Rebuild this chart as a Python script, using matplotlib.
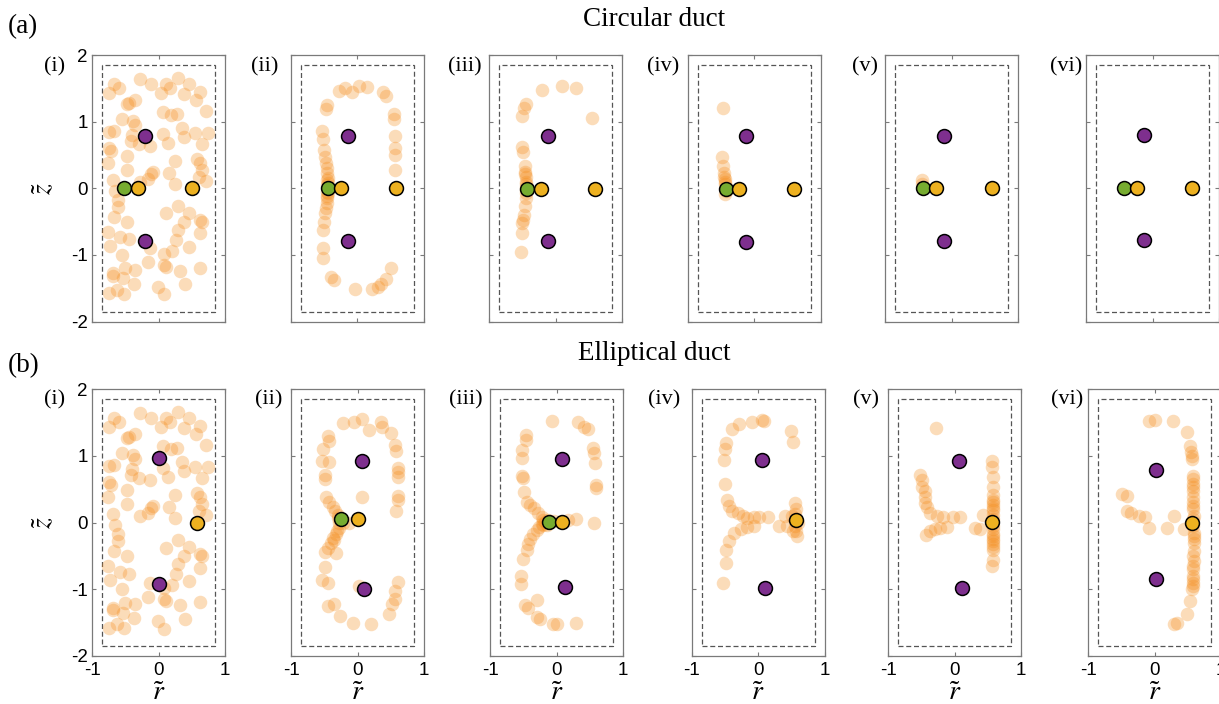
import numpy as np
import matplotlib.pyplot as plt
from matplotlib.patches import Rectangle

plt.rcParams['font.family'] = 'Liberation Sans'
plt.rcParams['mathtext.fontset'] = 'stix'
plt.rcParams['axes.unicode_minus'] = False

W, H = 1219, 704

# ---- tracer particles (r, z) ----
# initial distribution, same in (a)(i) and (b)(i)
init_pts = [(-0.74, 1.435), (-0.665, 1.565), (-0.595, 1.5), (-0.28, 1.635), (-0.115, 1.565),
            (0.045, 1.425), (0.12, 1.57), (0.18, 1.5), (0.295, 1.66), (0.455, 1.57),
            (0.38, 1.41), (0.625, 1.45), (0.57, 1.325), (0.72, 1.165), (-0.48, 1.265),
            (-0.44, 1.275), (-0.355, 1.325), (0.075, 1.14), (0.185, 1.1), (0.285, 1.115),
            (-0.555, 1.035), (-0.38, 1.015), (-0.355, 0.955), (-0.74, 0.84), (-0.665, 0.86),
            (-0.395, 0.795), (-0.415, 0.71), (-0.29, 0.66), (-0.13, 0.635), (0.07, 0.815),
            (0.145, 0.675), (0.36, 0.91), (0.385, 0.775), (0.555, 0.825), (0.745, 0.825),
            (0.655, 0.665), (-0.74, 0.6), (-0.715, 0.565), (-0.765, 0.385), (-0.47, 0.485),
            (-0.47, 0.275), (-0.08, 0.25), (-0.12, 0.21), (-0.165, 0.14), (-0.28, 0.1),
            (0.245, 0.415), (0.16, 0.235), (0.245, 0.065), (0.585, 0.435), (0.62, 0.375),
            (0.655, 0.275), (0.605, 0.175), (0.71, 0.11), (-0.69, 0.125), (-0.655, -0.04),
            (-0.615, -0.175), (-0.615, -0.275), (-0.665, -0.425), (-0.48, -0.5), (-0.765, -0.65),
            (-0.73, -0.86), (-0.58, -0.735), (-0.44, -0.765), (-0.555, -1.0), (-0.13, -0.9),
            (0.12, -0.375), (0.295, -0.265), (0.385, -0.5), (0.46, -0.365), (0.62, -0.475),
            (0.655, -0.5), (0.295, -0.625), (0.62, -0.675), (0.26, -0.775), (0.205, -0.935),
            (0.08, -0.985), (0.455, -0.875), (-0.16, -1.11), (-0.355, -1.225), (-0.505, -1.2),
            (-0.69, -1.275), (-0.68, -1.315), (-0.54, -1.35), (-0.365, -1.435), (-0.63, -1.525),
            (-0.74, -1.575), (-0.52, -1.585), (-0.015, -1.475), (0.085, -1.59), (0.08, -1.15),
            (0.11, -1.175), (0.32, -1.235), (0.395, -1.44), (0.62, -1.19)]

circ_ii = [(-0.27, 1.465), (-0.185, 1.5), (-0.085, 1.45), (0.03, 1.54), (0.14, 1.525),
           (0.39, 1.45), (0.44, 1.39), (-0.46, 1.25), (-0.475, 1.19), (0.55, 1.115),
           (0.555, 1.035), (0.575, 0.785), (0.575, 0.6), (0.575, 0.5), (0.575, 0.275),
           (-0.525, 0.865), (-0.52, 0.735), (-0.5, 0.575), (-0.485, 0.475), (-0.47, 0.375),
           (-0.46, 0.3), (-0.45, 0.225), (-0.445, 0.15), (-0.445, 0.075), (-0.445, 0.0),
           (-0.45, 0.05), (-0.45, -0.05), (-0.455, 0.12), (-0.455, -0.12), (-0.445, -0.075),
           (-0.45, -0.15), (-0.46, -0.225), (-0.47, -0.3), (-0.48, -0.375), (-0.5, -0.5),
           (-0.51, -0.625), (-0.52, -0.9), (-0.52, -1.05), (-0.395, -1.335), (-0.35, -1.375),
           (-0.035, -1.515), (0.23, -1.515), (0.315, -1.475), (0.365, -1.44), (0.44, -1.365),
           (0.515, -1.19)]

circ_iii = [(-0.21, 1.475), (0.1, 1.54), (0.31, 1.5), (0.55, 1.05), (-0.45, 1.26),
            (-0.48, 1.2), (-0.51, 1.09), (-0.51, 0.615), (-0.5, 0.55), (-0.47, 0.335),
            (-0.46, 0.25), (-0.45, 0.175), (-0.45, 0.1), (-0.45, 0.025), (-0.45, -0.075),
            (-0.45, -0.15), (-0.46, -0.26), (-0.48, -0.4), (-0.49, -0.475), (-0.51, -0.515),
            (-0.51, -0.665), (-0.53, -0.95), (-0.455, 0.06), (-0.455, -0.03), (-0.46, 0.21)]

circ_iv = [(-0.475, 1.2), (-0.485, 0.475), (-0.465, 0.335), (-0.455, 0.235), (-0.44, 0.135),
           (-0.435, 0.06), (-0.425, -0.04), (-0.435, -0.09), (-0.45, 0.17), (-0.44, 0.1)]

circ_v = [(-0.45, 0.125), (-0.45, 0.065)]

circ_vi = []

ell_ii = [(-0.23, 1.485), (-0.055, 1.5), (0.07, 1.55), (0.17, 1.385), (0.345, 1.5),
          (0.37, 1.425), (0.495, 1.34), (-0.445, 1.3), (-0.43, 1.215), (-0.53, 1.1),
          (0.555, 1.165), (0.57, 1.075), (-0.54, 0.925), (-0.43, 0.9), (-0.49, 0.715),
          (-0.49, 0.65), (0.6, 0.815), (0.6, 0.75), (0.6, 0.675), (0.6, 0.4),
          (0.6, 0.335), (0.57, 0.175), (0.07, 0.385), (-0.48, 0.375), (-0.43, 0.3),
          (-0.38, 0.225), (-0.34, 0.175), (-0.305, 0.115), (-0.28, 0.0), (-0.29, -0.075),
          (-0.33, -0.175), (-0.37, -0.225), (-0.405, -0.3), (-0.445, -0.375), (-0.49, -0.435),
          (-0.33, -0.45), (-0.22, 0.0), (-0.13, 0.0), (-0.3, 0.06), (-0.32, -0.12),
          (-0.36, -0.26), (-0.49, -0.665), (-0.54, -0.865), (-0.455, -0.9), (0.61, -0.885),
          (0.555, -1.025), (0.555, -1.15), (0.52, -1.225), (0.47, -1.375), (-0.445, -1.25),
          (-0.355, -1.225), (-0.27, -1.4), (-0.07, -1.5), (0.195, -1.515), (0.02, -0.95)]

ell_iii = [(-0.075, 1.52), (0.325, 1.5), (0.41, 1.435), (0.475, 1.395), (0.55, 1.12),
           (0.56, 1.035), (0.575, 0.885), (0.59, 0.56), (0.6, 0.52), (0.565, -0.005),
           (-0.46, 1.31), (-0.46, 1.235), (-0.525, 1.085), (-0.525, 0.97), (-0.525, 0.7),
           (-0.51, 0.67), (-0.485, 0.45), (-0.44, 0.31), (-0.4, 0.26), (-0.335, 0.21),
           (-0.275, 0.135), (-0.225, 0.085), (-0.2, 0.035), (-0.04, 0.02), (0.175, 0.035),
           (0.3, 0.05), (-0.26, -0.065), (-0.3, -0.115), (-0.35, -0.165), (-0.4, -0.24),
           (-0.425, -0.315), (-0.44, -0.415), (-0.5, -0.55), (-0.535, -0.8), (-0.535, -0.915),
           (-0.29, -1.165), (-0.475, -1.24), (-0.425, -1.28), (-0.3, -1.415), (-0.25, -1.45),
           (-0.05, -1.515), (0.0, -1.515), (0.3, -1.5), (-0.175, 0.01), (-0.15, -0.04),
           (-0.225, -0.015), (-0.2, -0.03), (-0.13, 0.03)]

ell_iv = [(-0.485, 1.185), (-0.5, 1.105), (-0.51, 0.935), (-0.39, 1.395), (-0.29, 1.47),
          (-0.09, 1.505), (0.06, 1.535), (0.09, 1.52), (0.49, 1.37), (0.53, 1.205),
          (-0.5, 0.57), (-0.475, 0.335), (-0.44, 0.245), (-0.39, 0.17), (-0.31, 0.135),
          (-0.235, 0.095), (-0.165, 0.07), (-0.06, 0.085), (0.01, 0.085), (0.14, 0.085),
          (-0.06, -0.045), (-0.165, -0.065), (-0.26, -0.095), (-0.36, -0.155), (-0.44, -0.28),
          (-0.49, -0.405), (-0.49, -0.605), (-0.525, -0.905), (0.56, 0.295), (0.575, 0.195),
          (0.4, 0.095), (0.44, -0.055), (0.31, -0.055), (0.56, -0.055), (0.575, -0.13),
          (0.585, -0.205), (0.51, 0.095), (0.56, 0.12), (0.6, 0.0), (0.53, -0.12)]

ell_v = [(-0.29, 1.42), (-0.52, 0.71), (-0.5, 0.635), (-0.495, 0.535), (-0.45, 0.47),
         (-0.445, 0.385), (-0.445, 0.285), (-0.42, 0.235), (-0.38, 0.135), (-0.27, 0.1),
         (-0.17, 0.075), (-0.02, 0.075), (0.08, 0.075), (-0.12, -0.065), (-0.22, -0.08),
         (-0.3, -0.1), (-0.37, -0.13), (-0.43, -0.19), (0.31, -0.08), (0.38, -0.09),
         (0.42, 0.11), (0.56, 0.92), (0.56, 0.835), (0.57, 0.685), (0.575, 0.535),
         (0.575, 0.41), (0.575, 0.335), (0.575, 0.26), (0.575, 0.185), (0.575, 0.11),
         (0.575, -0.09), (0.575, -0.165), (0.575, -0.24), (0.575, -0.315), (0.57, -0.415),
         (0.57, -0.565), (0.56, -0.65), (0.57, 0.3), (0.57, 0.22), (0.58, 0.05),
         (0.57, -0.05), (0.58, -0.2), (0.57, -0.28), (0.575, -0.36)]

ell_vi = [(-0.09, 1.525), (0.01, 1.54), (0.275, 1.515), (0.485, 1.36), (0.535, 1.14),
          (0.55, 1.05), (0.56, 0.95), (0.57, 0.7), (0.575, 0.575), (0.575, 0.475),
          (0.575, 0.375), (0.575, 0.3), (0.575, 0.2), (0.585, 0.1), (0.585, -0.2),
          (0.585, -0.3), (0.585, -0.425), (0.585, -0.575), (0.575, -0.7), (0.575, -0.9),
          (0.56, -1.0), (0.535, -1.175), (0.485, -1.375), (0.335, -1.5), (0.295, -1.525),
          (0.435, -0.1), (-0.49, 0.425), (-0.415, 0.4), (-0.415, 0.175), (-0.365, 0.14),
          (-0.24, 0.1), (-0.14, 0.075), (-0.09, -0.075), (0.185, -0.075), (0.295, 0.09),
          (0.56, 1.0), (0.575, 0.65), (0.575, 0.525), (0.58, 0.25), (0.58, 0.05),
          (0.58, -0.05), (0.585, -0.15), (0.585, -0.25), (0.58, -0.5), (0.575, -0.65),
          (0.575, -0.8), (0.57, -0.85), (0.57, -0.95)]

# ---- large markers: vortices (purple), stagnation points (green, yellow) ----
circ_purple = [[(-0.205, 0.79), (-0.205, -0.795)], [(-0.135, 0.785), (-0.135, -0.785)],
               [(-0.12, 0.79), (-0.12, -0.785)], [(-0.125, 0.785), (-0.125, -0.8)],
               [(-0.12, 0.79), (-0.12, -0.785)], [(-0.13, 0.8), (-0.13, -0.78)]]
circ_green = [[(-0.515, 0.0)], [(-0.44, 0.0)], [(-0.43, -0.01)], [(-0.43, -0.015)],
              [(-0.43, 0.0)], [(-0.44, 0.0)]]
circ_yellow = [[(-0.315, 0.0), (0.51, 0.0)], [(-0.25, 0.0), (0.58, 0.0)],
               [(-0.23, -0.01), (0.59, -0.01)], [(-0.23, -0.015), (0.6, -0.015)],
               [(-0.24, 0.0), (0.6, 0.0)], [(-0.24, 0.0), (0.59, 0.0)]]

ell_purple = [[(0.0, 0.965), (0.01, -0.915)], [(0.06, 0.925), (0.095, -1.0)],
              [(0.09, 0.95), (0.135, -0.965)], [(0.06, 0.935), (0.1, -0.98)],
              [(0.07, 0.925), (0.11, -0.975)], [(0.025, 0.79), (0.025, -0.85)]]
ell_green = [[], [(-0.255, 0.05)], [(-0.115, 0.01)], [], [], []]
ell_yellow = [[(0.575, -0.01)], [(0.0, 0.05)], [(0.09, 0.01)], [(0.57, 0.035)],
              [(0.56, 0.01)], [(0.56, 0.0)]]

panel_tags = ['(i)', '(ii)', '(iii)', '(iv)', '(v)', '(vi)']

# ---- layout in pixels ----
lefts_a = [92, 290.7, 489.3, 687.7, 885.3, 1086.3]
lefts_b = [92, 291.3, 490, 691.7, 888.3, 1088.3]
ax_w = 133
tag_right_a = [65, 278, 482, 679, 878, 1082]
tag_right_b = [65, 282, 483, 680, 879, 1083]

rows = [
    dict(pts=[init_pts, circ_ii, circ_iii, circ_iv, circ_v, circ_vi],
         purple=circ_purple, green=circ_green, yellow=circ_yellow,
         lefts=lefts_a, top=55, bot=321.5, tag_r=tag_right_a, tag_y=67,
         title='Circular duct', title_y=19, letter='(a)', letter_y=27),
    dict(pts=[init_pts, ell_ii, ell_iii, ell_iv, ell_v, ell_vi],
         purple=ell_purple, green=ell_green, yellow=ell_yellow,
         lefts=lefts_b, top=389, bot=656, tag_r=tag_right_b, tag_y=400,
         title='Elliptical duct', title_y=354, letter='(b)', letter_y=366),
]

fig = plt.figure(figsize=(W / 100, H / 100), dpi=100)

def fx(px):
    return px / W

def fy(py):
    return 1 - py / H

def big(ax, pts, color):
    if len(pts) == 0:
        return
    p = np.array(pts)
    ax.scatter(p[:, 0], p[:, 1], s=100, color=color, edgecolors='black',
               linewidths=1.1, zorder=4)

spine_col = '#7a7a7a'
for ri, row in enumerate(rows):
    for ci in range(6):
        ax = fig.add_axes([fx(row['lefts'][ci]), fy(row['bot']), ax_w / W,
                           (row['bot'] - row['top']) / H])
        ax.set_xlim(-1, 1)
        ax.set_ylim(-2, 2)
        ax.set_xticks([-1, 0, 1])
        ax.set_yticks([-2, -1, 0, 1, 2])
        ax.tick_params(direction='in', top=True, right=True, length=3, width=0.8,
                       color=spine_col, labelsize=13.5, labelcolor='black')
        ax.tick_params(axis='x', pad=4)
        ax.tick_params(axis='y', pad=3)
        for sp in ax.spines.values():
            sp.set_color(spine_col)
            sp.set_linewidth(0.9)

        ax.add_patch(Rectangle((-0.85, -1.85), 1.7, 3.7, fill=False, edgecolor='#555555',
                               linewidth=0.9, linestyle=(0, (4, 2.2)), zorder=1))

        pts = row['pts'][ci]
        if len(pts):
            p = np.array(pts)
            ax.scatter(p[:, 0], p[:, 1], s=95, color=(0.96, 0.55, 0.1), alpha=0.3,
                       linewidths=0, zorder=2)
        big(ax, row['purple'][ci], '#7E2F8E')
        big(ax, row['green'][ci], '#77AC30')
        big(ax, row['yellow'][ci], '#EDB120')

        if ci == 0:
            ax.set_ylabel(r'$\tilde{z}$', fontsize=20, labelpad=10)
        else:
            ax.set_yticklabels([])
        if ri == 1:
            ax.set_xlabel(r'$\tilde{r}$', fontsize=20, labelpad=1)
        else:
            ax.set_xticklabels([])

        fig.text(fx(row['tag_r'][ci]), fy(row['tag_y']), panel_tags[ci], ha='right',
                 va='center', family='Liberation Serif', fontsize=16)

    fig.text(fx(654), fy(row['title_y']), row['title'], ha='center', va='center',
             family='Liberation Serif', fontsize=19.5)
    fig.text(fx(8), fy(row['letter_y']), row['letter'], ha='left', va='center',
             family='Liberation Serif', fontsize=19.5)

fig.savefig('out.png', dpi=100)
